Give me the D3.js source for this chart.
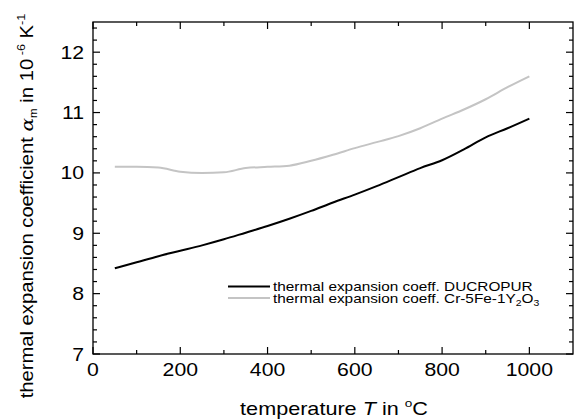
<!DOCTYPE html>
<html><head><meta charset="utf-8">
<script src="https://cdn.jsdelivr.net/npm/d3@7"></script>
<style>body{margin:0;background:#fff}svg{display:block}text{font-family:"Liberation Sans",Arial,sans-serif}</style>
</head><body><div id="c"></div>
<script>
const temps = [50,100,150,200,250,300,350,400,450,500,550,600,650,700,750,800,850,900,950,1000];
const ducropur = [8.42,8.52,8.62,8.71,8.80,8.90,9.01,9.12,9.24,9.37,9.51,9.64,9.78,9.93,10.08,10.21,10.39,10.59,10.74,10.90];
const crfey = [10.10,10.10,10.09,10.02,10.00,10.01,10.08,10.10,10.12,10.20,10.30,10.41,10.51,10.61,10.74,10.90,11.05,11.22,11.42,11.60];
const xMajor = [0,200,400,600,800,1000];
const xMinor = [100,300,500,700,900];
const yMajor = [7,8,9,10,11,12];
const yMinor = [7.2,7.4,7.6,7.8,8.2,8.4,8.6,8.8,9.2,9.4,9.6,9.8,10.2,10.4,10.6,10.8,11.2,11.4,11.6,11.8,12.2,12.4];
const seriesNames = ["thermal expansion coeff. DUCROPUR","thermal expansion coeff. Cr-5Fe-1Y2O3"];
const colors = ["#000000","#c4c4c4"];

const W=577,H=420;
const svg=d3.select("#c").append("svg").attr("width",W).attr("height",H);
const x=d3.scaleLinear().domain([0,1100]).range([93,573]);
const y=d3.scaleLinear().domain([7,12.5]).range([354,22]);
const L=93,R=573,T=22,B=354;

function xticks(vals,len){
  vals.forEach(v=>{
    svg.append("line").attr("x1",x(v)).attr("x2",x(v)).attr("y1",B).attr("y2",B-len).attr("stroke","#000").attr("stroke-width",1.2);
    svg.append("line").attr("x1",x(v)).attr("x2",x(v)).attr("y1",T).attr("y2",T+len).attr("stroke","#000").attr("stroke-width",1.2);
  });
}
function yticks(vals,len){
  vals.forEach(v=>{
    svg.append("line").attr("y1",y(v)).attr("y2",y(v)).attr("x1",L).attr("x2",L+len).attr("stroke","#000").attr("stroke-width",1.2);
    svg.append("line").attr("y1",y(v)).attr("y2",y(v)).attr("x1",R).attr("x2",R-len).attr("stroke","#000").attr("stroke-width",1.2);
  });
}
xticks(xMajor,7);xticks(xMinor,4);
yticks(yMajor,7);yticks(yMinor,4);

svg.append("rect").attr("x",L).attr("y",T).attr("width",R-L).attr("height",B-T).attr("fill","none").attr("stroke","#000").attr("stroke-width",1.3);

const SX=1.18;
xMajor.forEach(d=>{
  svg.append("text").attr("transform",`translate(${x(d)},376) scale(${SX},1)`).attr("text-anchor","middle").attr("font-size",18).text(d);
});
yMajor.forEach(d=>{
  svg.append("text").attr("transform",`translate(84,${y(d)+6.5}) scale(${SX},1)`).attr("text-anchor","end").attr("font-size",18).text(d);
});

const line=d3.line().x((d,i)=>x(temps[i])).y(d=>y(d)).curve(d3.curveMonotoneX);
svg.append("path").attr("d",line(crfey)).attr("fill","none").attr("stroke",colors[1]).attr("stroke-width",2);
svg.append("path").attr("d",line(ducropur)).attr("fill","none").attr("stroke",colors[0]).attr("stroke-width",2);

function fit(sel,target){
  const w=sel.node().getComputedTextLength();
  return target/w;
}

const ly=[286.5,298];
[0,1].forEach(i=>{
  svg.append("line").attr("x1",228).attr("x2",270).attr("y1",ly[i]).attr("y2",ly[i]).attr("stroke",colors[i]).attr("stroke-width",2);
});
const l1=svg.append("text").attr("font-size",12.5).text(seriesNames[0]);
const s1=fit(l1,260);
l1.attr("transform",`translate(273,${ly[0]+4.6}) scale(${s1},1)`);
const l2=svg.append("text").attr("font-size",12.5);
l2.append("tspan").text("thermal expansion coeff. Cr-5Fe-1Y");
l2.append("tspan").attr("font-size",8.5).attr("dy",3).text("2");
l2.append("tspan").attr("dy",-3).text("O");
l2.append("tspan").attr("font-size",8.5).attr("dy",3).text("3");
l2.attr("transform",`translate(273,${ly[1]+4.6}) scale(${s1},1)`);

const xt=svg.append("text").attr("text-anchor","middle").attr("font-size",17.5);
xt.append("tspan").text("temperature ");
xt.append("tspan").attr("font-style","italic").text("T");
xt.append("tspan").text(" in ");
xt.append("tspan").attr("font-size",11).attr("dy",-8).text("o");
xt.append("tspan").attr("dy",8).text("C");
const sxt=fit(xt,188);
xt.attr("transform",`translate(334,415) scale(${sxt},1)`);

const yt=svg.append("text").attr("text-anchor","middle").attr("font-size",17.5);
yt.append("tspan").text("thermal expansion coefficient ");
yt.append("tspan").attr("font-style","italic").attr("font-family","DejaVu Serif, serif").text("α");
yt.append("tspan").attr("font-size",10).attr("dy",4).text("m");
yt.append("tspan").attr("dy",-4).text(" in 10");
yt.append("tspan").attr("font-size",11).attr("dy",-8).text(" -6");
yt.append("tspan").attr("dy",8).text(" K");
yt.append("tspan").attr("font-size",11).attr("dy",-8).text("-1");
const syt=fit(yt,385);
yt.attr("transform",`translate(33,206) rotate(-90) scale(${syt},1)`);
</script></body></html>
